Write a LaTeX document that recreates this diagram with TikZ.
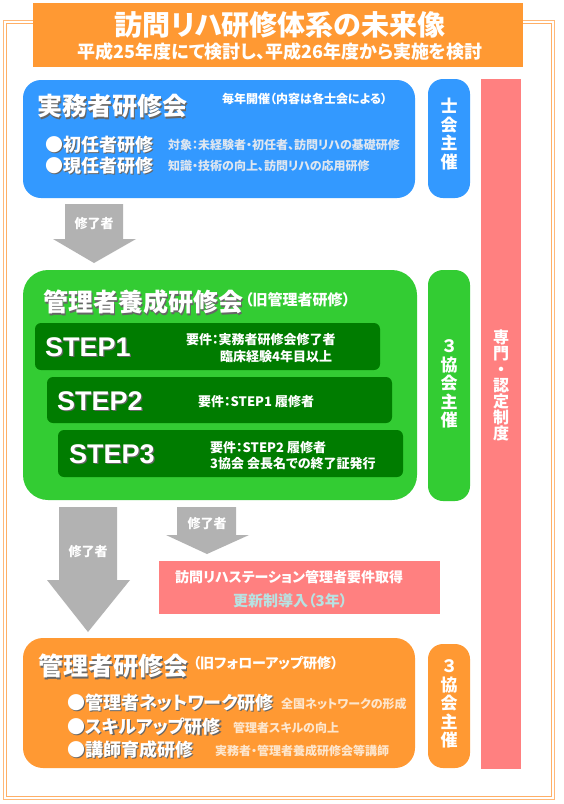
\documentclass[tikz,border=0pt]{standalone}
\usepackage{fontspec}
\setmainfont{Noto Sans CJK JP}[RawFeature=+palt]
\newfontfamily\heavy{Noto Sans CJK JP Black}[RawFeature=+palt]
\newfontfamily\stepfont{Liberation Sans}
\definecolor{cblue}{RGB}{51,153,255}
\definecolor{cgreen}{RGB}{51,204,51}
\definecolor{cdkgreen}{RGB}{0,124,0}
\definecolor{corange}{RGB}{255,153,51}
\definecolor{cpink}{RGB}{255,128,128}
\definecolor{cgrey}{RGB}{178,178,178}
\definecolor{cframe}{RGB}{255,184,120}
\definecolor{cteal}{RGB}{184,226,226}
\definecolor{descblue}{RGB}{222,230,240}
\definecolor{descorange}{RGB}{253,230,205}
\newcommand\shd[1]{\rlap{\kern1.2pt\raisebox{-1.2pt}{\color{black!60}#1}}#1}
\newcommand\fs[1]{\fontsize{#1}{#1}\selectfont\bfseries}
\newcommand\hs[1]{\heavy\fontsize{#1}{#1}\selectfont}
\begin{document}
\begin{tikzpicture}[x=1pt,y=-1pt,
  rbox/.style={fill=#1, draw=none, anchor=north west, inner sep=0pt, outer sep=0pt},
  lbl/.style={inner sep=0pt, text=white, anchor=west},
  clbl/.style={inner sep=0pt, text=white},
  vlbl/.style={inner sep=0pt, text=white, align=center},
  garrow/.style={fill=cgrey, draw=none}]
\useasboundingbox (0,0) rectangle (564,804);
\fill[white] (0,0) rectangle (564,804);
% frame
\draw[cframe, line width=1pt] (3.5,20.5) rectangle (554.5,799.5);
\draw[cframe!85!orange, line width=1pt] (6.5,23.5) rectangle (551.5,796.5);
% title
\node[rbox=corange, minimum width=490pt, minimum height=64pt] (titlebox) at (33,3) {};
\node[clbl, font=\hs{28}] (title) at (280,25) {訪問リハ研修体系の未来像};
\node[clbl, font=\fs{18}] (subtitle) at (280,52) {平成25年度にて検討し、平成26年度から実施を検討};
% blue box
\node[rbox=cblue, minimum width=392pt, minimum height=118pt, rounded corners=18pt] (bluebox) at (23,80) {};
\node[lbl, font=\hs{25}] (b1) at (37,107) {\shd{実務者研修会}};
\node[lbl, font=\fs{12}] (b2) at (222,99) {毎年開催（内容は各士会による）};
\node[lbl, font=\hs{18}] (b3) at (45,145) {\shd{●初任者研修}};
\node[lbl, font=\hs{18}] (b4) at (45,166) {\shd{●現任者研修}};
\node[lbl, font=\fs{12}, text=descblue] (b5) at (168,145) {対象：未経験者・初任者、訪問リハの基礎研修};
\node[lbl, font=\fs{12}, text=descblue] (b6) at (168,166) {知識・技術の向上、訪問リハの応用研修};
% side pills
\node[rbox=cblue, minimum width=42pt, minimum height=119pt, rounded corners=15pt] (pill1) at (428,79) {};
\node[vlbl, font={\heavy\fontsize{17}{18.5}\selectfont}] (pill1t) at (449,134) {士\\会\\主\\催};
\node[rbox=cgreen, minimum width=42pt, minimum height=231pt, rounded corners=15pt] (pill2) at (428,270) {};
\node[vlbl, font={\heavy\fontsize{17}{18.5}\selectfont}] (pill2t) at (449,384) {３\\協\\会\\主\\催};
\node[rbox=corange, minimum width=42pt, minimum height=124pt, rounded corners=15pt] (pill3) at (428,644) {};
\node[vlbl, font={\heavy\fontsize{17}{18.5}\selectfont}] (pill3t) at (449,704) {３\\協\\会\\主\\催};
\node[rbox=cpink, minimum width=40pt, minimum height=690pt] (bar) at (481,79) {};
\node[vlbl, font={\heavy\fontsize{16}{16}\selectfont}] (bart) at (501,385) {専\\門\\・\\認\\定\\制\\度};
% arrow 1
\fill[garrow] (65,204) -- (123,204) -- (123,239) -- (136,239) -- (94,263) -- (53,239) -- (65,239) -- cycle;
\node[clbl, font=\fs{13}] (a1) at (94,224) {修了者};
% green box
\node[rbox=cgreen, minimum width=394pt, minimum height=230pt, rounded corners=25pt] (greenbox) at (23,270) {};
\node[lbl, font=\hs{25}] (g1) at (43,303) {\shd{管理者養成研修会}};
\node[lbl, font=\fs{15}] (g2) at (245,300) {（旧管理者研修）};
\node[rbox=cdkgreen, minimum width=345pt, minimum height=47pt, rounded corners=6pt] (s1) at (35,323) {};
\node[rbox=cdkgreen, minimum width=345pt, minimum height=46pt, rounded corners=6pt] (s2) at (47,377) {};
\node[rbox=cdkgreen, minimum width=345pt, minimum height=47pt, rounded corners=6pt] (s3) at (58,430) {};
\node[lbl, font={\stepfont\fontsize{27}{27}\selectfont\bfseries}] (s1t) at (45,348) {\shd{STEP1}};
\node[lbl, font={\stepfont\fontsize{27}{27}\selectfont\bfseries}] (s2t) at (57,402) {\shd{STEP2}};
\node[lbl, font={\stepfont\fontsize{27}{27}\selectfont\bfseries}] (s3t) at (69,455) {\shd{STEP3}};
\node[lbl, font=\fs{13}] (s1a) at (186,340) {要件：実務者研修会修了者};
\node[lbl, font=\fs{13}] (s1b) at (220,357) {臨床経験4年目以上};
\node[lbl, font=\fs{13}] (s2a) at (198,402) {要件：STEP1 履修者};
\node[lbl, font=\fs{13}] (s3a) at (210,448) {要件：STEP2 履修者};
\node[lbl, font=\fs{13}] (s3b) at (210,464) {3協会 会長名での終了証発行};
% arrows 2 and 3
\fill[garrow] (59,507) -- (117,507) -- (117,580) -- (130,580) -- (88,632) -- (47,580) -- (59,580) -- cycle;
\node[clbl, font=\fs{13}] (a2) at (88,552) {修了者};
\fill[garrow] (177,507) -- (236,507) -- (236,535) -- (249,535) -- (207,554) -- (166,535) -- (177,535) -- cycle;
\node[clbl, font=\fs{13}] (a3) at (207,524) {修了者};
% pink rect
\node[rbox=cpink, minimum width=281pt, minimum height=53pt] (pinkrect) at (159,561) {};
\node[lbl, font=\fs{14}] (p1) at (175,577) {訪問リハステーション管理者要件取得};
\node[lbl, font=\fs{15}, text=cteal] (p2) at (233,601) {更新制導入（3年）};
% orange box
\node[rbox=corange, minimum width=392pt, minimum height=130pt, rounded corners=20pt] (orangebox) at (23,638) {};
\node[lbl, font=\hs{25}] (o1) at (38,667) {\shd{管理者研修会}};
\node[lbl, font=\fs{14}] (o2) at (193,663) {（旧フォローアップ研修）};
\node[lbl, font=\hs{18}] (o3) at (67,703) {\shd{●管理者ネットワーク研修}};
\node[lbl, font=\hs{18}] (o4) at (67,727) {\shd{●スキルアップ研修}};
\node[lbl, font=\hs{18}] (o5) at (67,750) {\shd{●講師育成研修}};
\node[lbl, font=\fs{12}, text=descorange] (o6) at (281,704) {全国ネットワークの形成};
\node[lbl, font=\fs{12}, text=descorange] (o7) at (233,728) {管理者スキルの向上};
\node[lbl, font=\fs{12}, text=descorange] (o8) at (215,751) {実務者・管理者養成研修会等講師};
\end{tikzpicture}
\end{document}
